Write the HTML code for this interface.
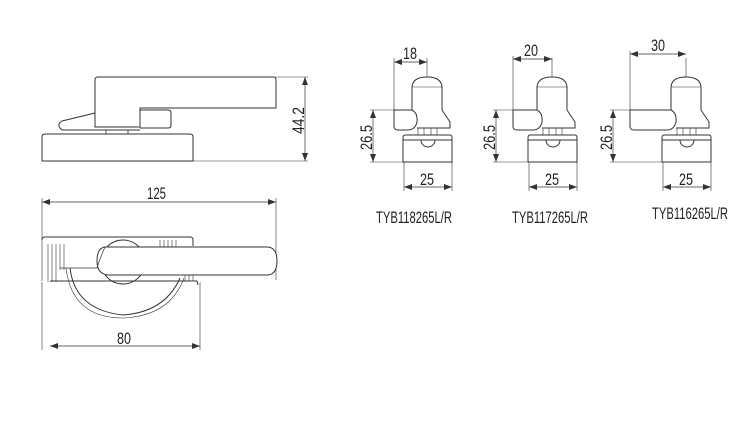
<!DOCTYPE html>
<html><head><meta charset="utf-8"><style>
html,body{margin:0;padding:0;background:#fff;width:755px;height:439px;overflow:hidden}
svg{display:block}
text{font-family:"Liberation Sans",sans-serif;fill:#222}
</style></head><body>
<svg width="755" height="439" viewBox="0 0 755 439" fill="none" stroke="#333" stroke-width="1">
<defs>
<marker id="a" markerWidth="8" markerHeight="6" refX="8" refY="3" orient="auto-start-reverse" markerUnits="userSpaceOnUse"><path d="M0,0 L8,3 L0,6" fill="#333" stroke="none"/></marker>
</defs>
<path d="M42,137 Q42,134 45,134 L190,134 Q193,134 193,137 L193,161 L42,161 Z"/>
<path d="M106,134 L106,130 M128,134 L128,130" stroke-width=".8"/>
<path d="M95,80 Q95,77 98,77 L274,77 Q276,77 276,80 L276,108 L140,108 L140,127 L95,127 Z" fill="#fff"/>
<path d="M140,110 L168,110 Q171,110 171,113 L171,125 Q171,128 168,128 L140,128"/>
<path d="M95,113 L62,121 Q57,124 60,128 L62,130 L140,130"/>
<line x1="276" y1="77" x2="308" y2="77" stroke-width=".6"/>
<line x1="193" y1="161" x2="308" y2="161" stroke-width=".6"/>
<line x1="305" y1="77" x2="305" y2="161" stroke-width=".7" marker-start="url(#a)" marker-end="url(#a)"/>
<text x="0" y="0" font-size="17" textLength="27" lengthAdjust="spacingAndGlyphs" transform="translate(304,134) rotate(-90)" stroke="none">44.2</text>
<line x1="42" y1="202" x2="276" y2="202" stroke-width=".7" marker-start="url(#a)" marker-end="url(#a)"/>
<line x1="42" y1="198" x2="42" y2="240" stroke-width=".6"/>
<line x1="276" y1="198" x2="276" y2="280" stroke-width=".6"/>
<text x="147" y="199" font-size="17" textLength="19" lengthAdjust="spacingAndGlyphs" stroke="none">125</text>
<path d="M42,240 Q42,237 45,237 L190,237 Q193,237 193,240 L193,246"/>
<path d="M42,240 L42,281 M48,244 L48,282 M52,244 L52,282 M56,244 L56,282 M60,244 L60,270 M64,244 L64,270" stroke-width=".6"/>
<path d="M160,240 L160,248 M164,240 L164,248 M168,240 L168,248 M172,240 L172,248 M176,240 L176,248" stroke-width=".6"/>
<path d="M50,281 L197,281 L198,285" />
<path d="M185,273 L185,281 M189,273 L189,281 M193,273 L193,281" stroke-width=".6"/>
<path d="M70,268 Q75,310 123,315 Q165,312 180,278"/>
<path d="M66,268 Q72,318 123,318 Q170,316 184,278" stroke-width=".6"/>
<circle cx="123" cy="262" r="22"/>
<path d="M105,247 L268,247 Q277,248 277,261 Q277,274 268,275 L108,275 Q97,274 97,261 Q97,248 105,247 Z" fill="#fff"/>
<path d="M60,268 L97,268 Q100,258 105,247" stroke-width=".7"/>
<line x1="200" y1="282" x2="200" y2="350" stroke-width=".6"/>
<line x1="42" y1="282" x2="42" y2="350" stroke-width=".6"/>
<line x1="50" y1="346" x2="200" y2="346" stroke-width=".7" marker-start="url(#a)" marker-end="url(#a)"/>
<text x="117" y="344" font-size="17" textLength="14" lengthAdjust="spacingAndGlyphs" stroke="none">80</text>
<g id="u1">
<path d="M412,110 L412,88 Q412,77 427,77 Q442,77 442,88 L442,110 L450,122 L450,128 L417,128" />
<path d="M412,87 L442,87" stroke-width=".6"/>
<path d="M418,128 L418,135 L424,135 L424,128 M431,128 L431,135 L437,135 L437,128" stroke-width=".6"/>
<path d="M405,135 L450,135 Q452,135 452,138 L452,162 L403,162 L403,138 Q403,135 405,135 Z M403,140 L452,140"/>
<path d="M421,140 A7,7 0 0 0 435,140"/>
<line x1="404" y1="162" x2="404" y2="191" stroke-width=".6"/>
<line x1="452" y1="162" x2="452" y2="191" stroke-width=".6"/>
<line x1="404" y1="187" x2="452" y2="187" stroke-width=".7" marker-start="url(#a)" marker-end="url(#a)"/>
<text x="420" y="185" font-size="17" textLength="14" lengthAdjust="spacingAndGlyphs" stroke="none">25</text>
<line x1="427" y1="58" x2="427" y2="77" stroke-width=".6"/>
</g>
<path d="M394,110 L412,110 Q418,113 417,122 Q415,130 408,130 L398,130 Q394,130 394,126 Z" fill="#fff"/>
<line x1="394" y1="58" x2="394" y2="110" stroke-width=".6"/>
<line x1="394" y1="62" x2="427" y2="62" stroke-width=".7" marker-start="url(#a)" marker-end="url(#a)"/>
<text x="403" y="59" font-size="17" textLength="14" lengthAdjust="spacingAndGlyphs" stroke="none">18</text>
<line x1="370" y1="110" x2="394" y2="110" stroke-width=".6"/>
<line x1="370" y1="162" x2="404" y2="162" stroke-width=".6"/>
<line x1="373" y1="110" x2="373" y2="162" stroke-width=".7" marker-start="url(#a)" marker-end="url(#a)"/>
<text x="0" y="0" font-size="17" textLength="25" lengthAdjust="spacingAndGlyphs" transform="translate(372,150) rotate(-90)" stroke="none">26.5</text>
<text x="376" y="223" font-size="17" textLength="76" lengthAdjust="spacingAndGlyphs" stroke="none">TYB118265L/R</text>
<use href="#u1" transform="translate(125,0)"/>
<path d="M513,110 L537,110 Q543,113 542,122 Q540,130 533,130 L517,130 Q513,130 513,126 Z" fill="#fff"/>
<line x1="513" y1="56" x2="513" y2="110" stroke-width=".6"/>
<line x1="513" y1="59" x2="552" y2="59" stroke-width=".7" marker-start="url(#a)" marker-end="url(#a)"/>
<text x="524" y="56" font-size="17" textLength="14" lengthAdjust="spacingAndGlyphs" stroke="none">20</text>
<line x1="493" y1="110" x2="513" y2="110" stroke-width=".6"/>
<line x1="493" y1="162" x2="529" y2="162" stroke-width=".6"/>
<line x1="496" y1="110" x2="496" y2="162" stroke-width=".7" marker-start="url(#a)" marker-end="url(#a)"/>
<text x="0" y="0" font-size="17" textLength="25" lengthAdjust="spacingAndGlyphs" transform="translate(495,150) rotate(-90)" stroke="none">26.5</text>
<text x="512" y="223" font-size="17" textLength="76" lengthAdjust="spacingAndGlyphs" stroke="none">TYB117265L/R</text>
<use href="#u1" transform="translate(259,0)"/>
<path d="M630,110 L671,110 Q677,113 676,122 Q674,130 667,130 L634,130 Q630,130 630,126 Z" fill="#fff"/>
<line x1="630" y1="51" x2="630" y2="110" stroke-width=".6"/>
<line x1="630" y1="54" x2="686" y2="54" stroke-width=".7" marker-start="url(#a)" marker-end="url(#a)"/>
<text x="651" y="51" font-size="17" textLength="14" lengthAdjust="spacingAndGlyphs" stroke="none">30</text>
<line x1="610" y1="110" x2="630" y2="110" stroke-width=".6"/>
<line x1="610" y1="162" x2="663" y2="162" stroke-width=".6"/>
<line x1="613" y1="110" x2="613" y2="162" stroke-width=".7" marker-start="url(#a)" marker-end="url(#a)"/>
<text x="0" y="0" font-size="17" textLength="25" lengthAdjust="spacingAndGlyphs" transform="translate(612,150) rotate(-90)" stroke="none">26.5</text>
<text x="652" y="219" font-size="17" textLength="76" lengthAdjust="spacingAndGlyphs" stroke="none">TYB116265L/R</text>
</svg>
</body></html>
